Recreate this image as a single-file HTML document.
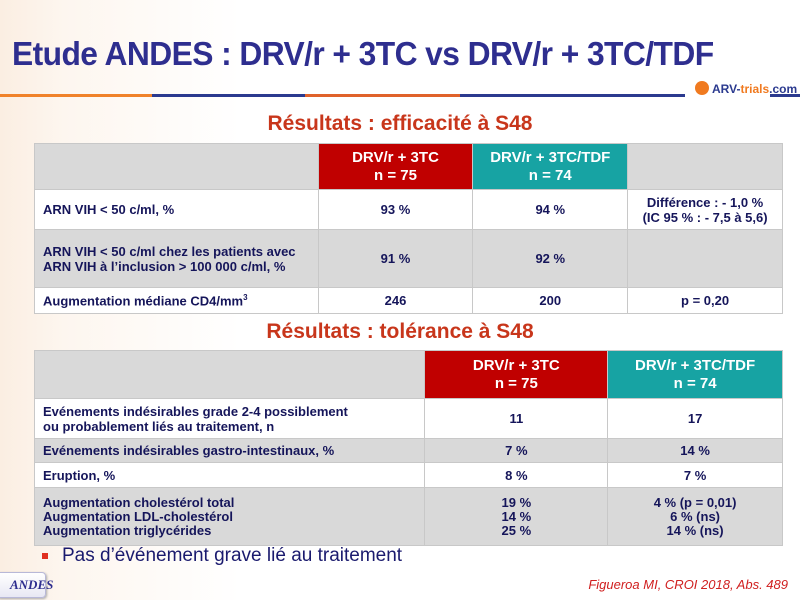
<!DOCTYPE html>
<html><head><meta charset="utf-8"><style>
*{margin:0;padding:0;box-sizing:border-box}
body{width:800px;height:600px;position:relative;overflow:hidden;font-family:"Liberation Sans",sans-serif;background:linear-gradient(90deg,#fbeee2 0%,#fdf6ef 8%,#fff 30%,#fff 100%)}
.a{position:absolute}
h1{position:absolute;left:12px;top:35px;font-size:33px;font-weight:bold;color:#2e2e8f;letter-spacing:-0.6px;transform:scaleX(0.963);transform-origin:left}
.h2{position:absolute;width:800px;text-align:center;font-size:21px;font-weight:bold;color:#c8361b}
table{position:absolute;border-collapse:collapse;font-size:13px;font-weight:bold;color:#15155a}
td{border:1px solid #c8c8c8;vertical-align:middle}
.g td{background:#d9d9d9}
.w td{background:#fff}
.c{text-align:center}
.l{padding-left:8px}
.hr{background:#c00000!important;color:#fff;text-align:center;font-size:15px;line-height:18px}
.ht{background:#17a3a3!important;color:#fff;text-align:center;font-size:15px;line-height:18px}
</style></head><body>
<h1>Etude ANDES : DRV/r + 3TC vs DRV/r + 3TC/TDF</h1>
<div class="a" style="left:0;top:94px;width:152px;height:3px;background:#f0822a"></div>
<div class="a" style="left:152px;top:94px;width:153px;height:3px;background:#2b3a8f"></div>
<div class="a" style="left:305px;top:94px;width:155px;height:3px;background:#e0622a"></div>
<div class="a" style="left:460px;top:94px;width:225px;height:3px;background:#2b3a8f"></div>
<div class="a" style="left:770px;top:94px;width:30px;height:3px;background:#2b3a8f"></div>
<div class="a" style="left:695px;top:81px;width:14px;height:14px;border-radius:50%;background:#f07a20"></div>
<div class="a" style="left:712px;top:82px;font-size:12px;font-weight:bold;color:#2b3a8f">ARV-<span style="color:#f07a20">trials</span>.com</div>
<div class="h2" style="top:112px">Résultats : efficacité à S48</div>
<table style="left:34px;top:143px;width:749px">
<tr class="g" style="height:46px"><td style="width:284px"></td><td class="hr" style="width:155px">DRV/r + 3TC<br>n = 75</td><td class="ht" style="width:155px">DRV/r + 3TC/TDF<br>n = 74</td><td style="width:155px"></td></tr>
<tr class="w" style="height:40px"><td class="l">ARN VIH &lt; 50 c/ml, %</td><td class="c">93 %</td><td class="c">94 %</td><td class="c">Différence : - 1,0 %<br>(IC 95 % : - 7,5 à 5,6)</td></tr>
<tr class="g" style="height:58px"><td class="l">ARN VIH &lt; 50 c/ml chez les patients avec<br>ARN VIH à l’inclusion &gt; 100 000 c/ml, %</td><td class="c">91 %</td><td class="c">92 %</td><td></td></tr>
<tr class="w" style="height:26px"><td class="l">Augmentation médiane CD4/mm<sup style="font-size:8px">3</sup></td><td class="c">246</td><td class="c">200</td><td class="c">p = 0,20</td></tr>
</table>
<div class="h2" style="top:320px">Résultats : tolérance à S48</div>
<table style="left:34px;top:350px;width:749px">
<tr class="g" style="height:48px"><td style="width:391px"></td><td class="hr" style="width:183px">DRV/r + 3TC<br>n = 75</td><td class="ht" style="width:175px">DRV/r + 3TC/TDF<br>n = 74</td></tr>
<tr class="w" style="height:40px"><td class="l">Evénements indésirables grade 2-4 possiblement<br>ou probablement liés au traitement, n</td><td class="c">11</td><td class="c">17</td></tr>
<tr class="g" style="height:24px"><td class="l">Evénements indésirables gastro-intestinaux, %</td><td class="c">7 %</td><td class="c">14 %</td></tr>
<tr class="w" style="height:25px"><td class="l">Eruption, %</td><td class="c">8 %</td><td class="c">7 %</td></tr>
<tr class="g" style="height:58px"><td class="l" style="line-height:14px">Augmentation cholestérol total<br>Augmentation LDL-cholestérol<br>Augmentation triglycérides</td><td class="c" style="line-height:14px">19 %<br>14 %<br>25 %</td><td class="c" style="line-height:14px">4 % (p = 0,01)<br>6 % (ns)<br>14 % (ns)</td></tr>
</table>
<div class="a" style="left:42px;top:553px;width:6px;height:6px;background:#e03020"></div>
<div class="a" style="left:62px;top:545px;font-size:19px;color:#1a1a6e">Pas d’événement grave lié au traitement</div>
<div class="a" style="left:-4px;top:572px;width:50px;height:26px;border:1px solid #b8b8d8;border-radius:4px;background:linear-gradient(#fff,#e8e8f4);box-shadow:1px 1px 2px #aaa"></div>
<div class="a" style="left:10px;top:577px;font-family:'Liberation Serif',serif;font-style:italic;font-weight:bold;font-size:13px;color:#2e2e8f">ANDES</div>
<div class="a" style="right:12px;top:577px;font-style:italic;font-size:13px;color:#d02020">Figueroa MI, CROI 2018, Abs. 489</div>
</body></html>
